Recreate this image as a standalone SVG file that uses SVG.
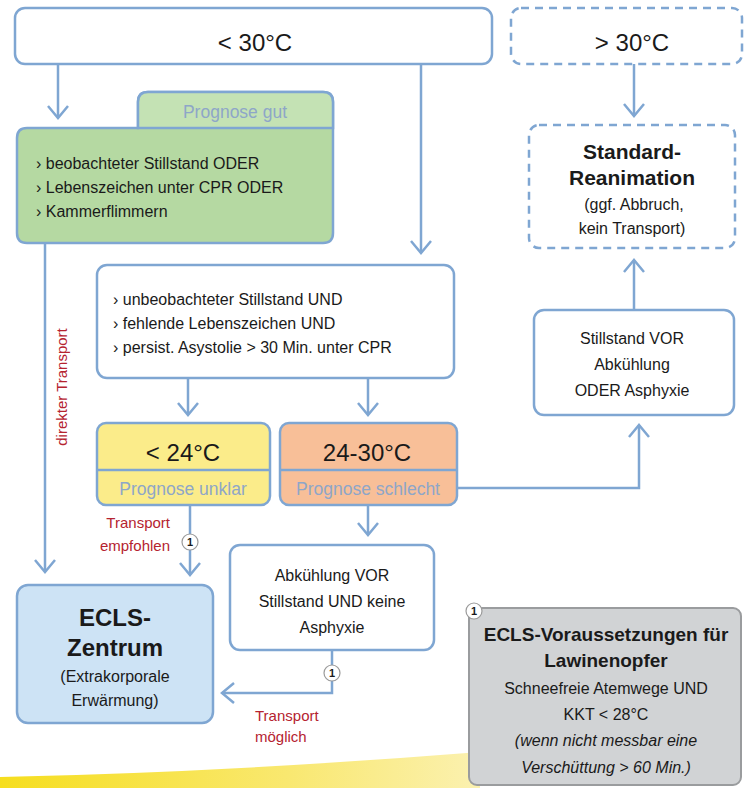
<svg xmlns="http://www.w3.org/2000/svg" width="744" height="788" viewBox="0 0 744 788">
<defs>
<style>
.box{stroke:#7fa6d2;stroke-width:2.5;}
.dash{fill:#fff;stroke:#7fa6d2;stroke-width:2.5;stroke-dasharray:8 6;}
.con{fill:none;stroke:#7fa6d2;stroke-width:2.5;}
text{font-family:"Liberation Sans","Noto Sans",Arial,sans-serif;fill:#1a1a1a;}
.t{font-size:16px;}
.big{font-size:24px;text-anchor:middle;}
.c{text-anchor:middle;}
.b{font-weight:bold;}
.prog{font-size:17.5px;fill:#8ea6c8;text-anchor:middle;}
.red{font-size:15px;fill:#b52330;}
.num{font-size:11px;font-weight:bold;text-anchor:middle;}
.circ{fill:#fff;stroke:#9a9a9a;stroke-width:1.2;}
</style>
<marker id="arr" viewBox="-14 -12 16 24" refX="0" refY="0" markerWidth="16" markerHeight="24" markerUnits="userSpaceOnUse" orient="auto">
<path d="M-12,-10 L0,0 L-12,10" fill="none" stroke="#7fa6d2" stroke-width="2.5"/>
</marker>
<linearGradient id="yg" x1="0" y1="0" x2="1" y2="0">
<stop offset="0" stop-color="#f6de1e"/>
<stop offset="0.6" stop-color="#f9e870"/>
<stop offset="1" stop-color="#fbf1b0"/>
</linearGradient>
</defs>
<rect width="744" height="788" fill="#fff"/>
<path d="M0,788 L0,777 Q230,772 480,752 L480,788 Z" fill="url(#yg)"/>

<g id="connectors">
<line class="con" x1="58" y1="64" x2="58" y2="118" marker-end="url(#arr)"/>
<line class="con" x1="421" y1="64" x2="421" y2="253" marker-end="url(#arr)"/>
<line class="con" x1="45" y1="243" x2="45" y2="572" marker-end="url(#arr)"/>
<line class="con" x1="188" y1="378" x2="188" y2="415" marker-end="url(#arr)"/>
<line class="con" x1="368" y1="378" x2="368" y2="415" marker-end="url(#arr)"/>
<line class="con" x1="190" y1="505" x2="190" y2="575" marker-end="url(#arr)"/>
<line class="con" x1="368" y1="505" x2="368" y2="535" marker-end="url(#arr)"/>
<polyline class="con" points="332,650 332,693 222,693" marker-end="url(#arr)"/>
<polyline class="con" points="457,488 639,488 639,425" marker-end="url(#arr)"/>
<line class="con" x1="634" y1="64" x2="634" y2="116" marker-end="url(#arr)"/>
<line class="con" x1="634" y1="310" x2="634" y2="260" marker-end="url(#arr)"/>
<text class="red" transform="translate(67,387) rotate(-90)" text-anchor="middle">direkter Transport</text>
<text class="red" x="170" y="528" text-anchor="end">Transport</text>
<text class="red" x="170" y="551" text-anchor="end">empfohlen</text>
<text class="red" x="255" y="721">Transport</text>
<text class="red" x="255" y="742">möglich</text>
<circle class="circ" cx="190" cy="542" r="8"/>
<text class="num" x="190" y="546">1</text>
<circle class="circ" cx="332" cy="673" r="8"/>
<text class="num" x="332" y="677">1</text>
</g>

<g id="lt30">
<rect class="box" x="15" y="8" width="477" height="56" rx="10" fill="#fff"/>
<text class="big" x="255" y="51">&lt; 30°C</text>
</g>

<g id="gt30">
<rect class="dash" x="511" y="8" width="231" height="56" rx="10"/>
<text class="big" x="632" y="51">&gt; 30°C</text>
</g>

<g id="prognose-gut">
<path d="M27,128 L138,128 L138,102 Q138,92 148,92 L323,92 Q333,92 333,102 L333,233 Q333,243 323,243 L27,243 Q17,243 17,233 L17,138 Q17,128 27,128 Z" fill="#b5d9a2" class="box"/>
<path d="M138,128 L138,102 Q138,92 148,92 L323,92 Q333,92 333,102 L333,128 Z" fill="#c4e2b4" class="box"/>
<text class="prog" x="235" y="118">Prognose gut</text>
<text class="t" x="36" y="169">› beobachteter Stillstand ODER</text>
<text class="t" x="36" y="193">› Lebenszeichen unter CPR ODER</text>
<text class="t" x="36" y="217">› Kammerflimmern</text>
</g>

<g id="standard">
<rect class="dash" x="529" y="125" width="206" height="123" rx="10"/>
<text class="c b" x="632" y="159" font-size="21">Standard-</text>
<text class="c b" x="632" y="185" font-size="21">Reanimation</text>
<text class="c t" x="634" y="210">(ggf. Abbruch,</text>
<text class="c t" x="632" y="234">kein Transport)</text>
</g>

<g id="unbeobachtet">
<rect class="box" x="97" y="265" width="357" height="113" rx="10" fill="#fff"/>
<text class="t" x="113" y="305">› unbeobachteter Stillstand UND</text>
<text class="t" x="113" y="329">› fehlende Lebenszeichen UND</text>
<text class="t" x="113" y="353">› persist. Asystolie &gt; 30 Min. unter CPR</text>
</g>

<g id="stillstand-vor">
<rect class="box" x="534" y="310" width="200" height="105" rx="10" fill="#fff"/>
<text class="c t" x="632" y="344">Stillstand VOR</text>
<text class="c t" x="632" y="370">Abkühlung</text>
<text class="c t" x="632" y="396">ODER Asphyxie</text>
</g>

<g id="lt24">
<rect class="box" x="97" y="423" width="173" height="82" rx="9" fill="#fbec8a"/>
<line class="box" x1="97" y1="470" x2="270" y2="470"/>
<text class="big" x="183" y="461">&lt; 24°C</text>
<text class="prog" x="183" y="495">Prognose unklar</text>
</g>

<g id="t24-30">
<rect class="box" x="280" y="423" width="177" height="82" rx="9" fill="#f8bf98"/>
<line class="box" x1="280" y1="470" x2="457" y2="470"/>
<text class="big" x="367" y="461">24-30°C</text>
<text class="prog" x="368" y="495">Prognose schlecht</text>
</g>

<g id="abkuehlung">
<rect class="box" x="230" y="545" width="204" height="105" rx="10" fill="#fff"/>
<text class="c t" x="332" y="581">Abkühlung VOR</text>
<text class="c t" x="332" y="607">Stillstand UND keine</text>
<text class="c t" x="332" y="633">Asphyxie</text>
</g>

<g id="ecls">
<rect class="box" x="17" y="585" width="196" height="138" rx="11" fill="#cde3f5"/>
<text class="big b" x="115" y="626">ECLS-</text>
<text class="big b" x="115" y="656">Zentrum</text>
<text class="c t" x="115" y="682">(Extrakorporale</text>
<text class="c t" x="115" y="706">Erwärmung)</text>
</g>

<g id="ecls-voraussetzungen">
<rect x="469" y="608" width="272" height="177" rx="8" fill="#d1d3d5" stroke="#9a9c9e" stroke-width="2"/>
<circle class="circ" cx="474" cy="611" r="8"/>
<text class="num" x="474" y="615">1</text>
<text class="c b" x="606" y="641" font-size="19">ECLS-Voraussetzungen für</text>
<text class="c b" x="606" y="667" font-size="19">Lawinenopfer</text>
<text class="c t" x="606" y="694">Schneefreie Atemwege UND</text>
<text class="c t" x="606" y="720">KKT &lt; 28°C</text>
<text class="c t" x="606" y="746" font-style="italic">(wenn nicht messbar eine</text>
<text class="c t" x="606" y="773" font-style="italic">Verschüttung &gt; 60 Min.)</text>
</g>
</svg>
